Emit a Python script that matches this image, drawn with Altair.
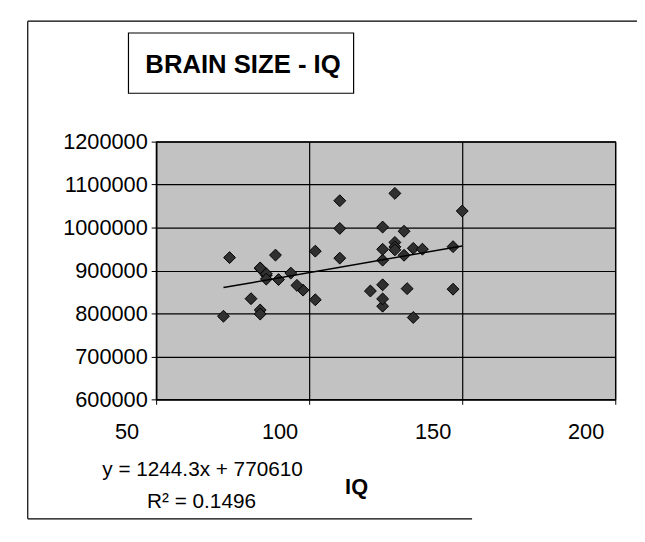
import altair as alt
import pandas as pd

# Performance IQ and MRI brain-size counts (40 subjects)
piq = [124, 124, 150, 128, 134, 110, 131, 98, 84, 147,
       124, 128, 124, 147, 90, 96, 120, 102, 84, 86,
       86, 84, 134, 128, 102, 131, 84, 110, 72, 124,
       132, 137, 110, 86, 81, 128, 124, 94, 74, 89]
mri = [816932, 1001121, 1038437, 965353, 951545, 928799, 991305, 854258, 904858, 955466,
       833868, 1079549, 924059, 856472, 878897, 865363, 852244, 945088, 808020, 889083,
       892420, 905940, 790619, 955003, 831772, 935494, 798612, 1062462, 793549, 866662,
       857782, 949589, 997925, 879987, 834344, 948066, 949395, 893983, 930016, 935863]

x_ticks = [50, 100, 150, 200]
y_ticks = [600000, 700000, 800000, 900000, 1000000, 1100000, 1200000]

title_text = "BRAIN SIZE - IQ"
eq_text = "y = 1244.3x + 770610"
r2_text = "R² = 0.1496"
x_title = "IQ"

FONT = "Liberation Sans"

df = pd.DataFrame({"PIQ": piq, "MRI": mri})

xenc = alt.X("PIQ:Q",
             scale=alt.Scale(domain=[50, 200], nice=False, zero=False),
             axis=alt.Axis(values=x_ticks, title=None, labelFontSize=22, labelFont=FONT,
                           labelColor="black", labelOffset=-30, labelPadding=18, tickSize=5,
                           tickColor="black", domainColor="black", domainWidth=1.5,
                           grid=True, gridColor="black", gridWidth=1.2, gridOpacity=1,
                           labelFlush=False))
yenc = alt.Y("MRI:Q",
             scale=alt.Scale(domain=[600000, 1200000], nice=False, zero=False),
             axis=alt.Axis(values=y_ticks, format="d", title=None, labelFontSize=22,
                           labelFont=FONT, labelColor="black", labelPadding=4, tickSize=5,
                           tickColor="black", domainColor="black", domainWidth=1.5,
                           grid=True, gridColor="black", gridWidth=1.2, gridOpacity=1))

base = alt.Chart(df)

points = base.mark_point(shape="diamond", filled=True, size=145, fill="#303030",
                         stroke="black", strokeWidth=1, opacity=1).encode(x=xenc, y=yenc)

trend = base.transform_regression("PIQ", "MRI").mark_line(
    color="black", strokeWidth=1.5).encode(x="PIQ:Q", y="MRI:Q")

one = pd.DataFrame({"t": [title_text]})

frame_left = alt.Chart(one).mark_rule(color="black", strokeWidth=1.2).encode(
    x=alt.value(-130), y=alt.value(-122), y2=alt.value(382))
frame_top = alt.Chart(one).mark_rule(color="black", strokeWidth=1.2).encode(
    x=alt.value(-130), x2=alt.value(560), y=alt.value(-122))
frame_bottom = alt.Chart(one).mark_rule(color="black", strokeWidth=1.2).encode(
    x=alt.value(-130), x2=alt.value(320), y=alt.value(382))

title_box = alt.Chart(one).mark_rect(fill="white", stroke="black", strokeWidth=1.2).encode(
    x=alt.value(-28), x2=alt.value(200), y=alt.value(-110), y2=alt.value(-49))
title = alt.Chart(one).mark_text(font=FONT, fontSize=26, fontWeight="bold", color="black",
                                 align="center", baseline="middle").encode(
    x=alt.value(88), y=alt.value(-78), text="t:N")

eq = alt.Chart(pd.DataFrame({"t": [eq_text]})).mark_text(
    font=FONT, fontSize=21, color="black", align="center", baseline="middle").encode(
    x=alt.value(47), y=alt.value(333), text="t:N")
r2 = alt.Chart(pd.DataFrame({"t": [r2_text]})).mark_text(
    font=FONT, fontSize=21, color="black", align="center", baseline="middle").encode(
    x=alt.value(46), y=alt.value(365), text="t:N")
xt = alt.Chart(pd.DataFrame({"t": [x_title]})).mark_text(
    font=FONT, fontSize=22, fontWeight="bold", color="black", align="center",
    baseline="middle").encode(x=alt.value(203), y=alt.value(350), text="t:N")

chart = alt.layer(points, trend, frame_left, frame_top, frame_bottom, title_box, title,
                  eq, r2, xt).properties(
    width=465, height=261,
    padding={"left": 150, "top": 132, "right": 22, "bottom": 132},
    autosize=alt.AutoSizeParams(type="none"),
    background="white",
).configure_view(fill="#c2c2c2", stroke="black", strokeWidth=1.2)

chart.save("out.html", embed_options={"renderer": "svg", "actions": False})
